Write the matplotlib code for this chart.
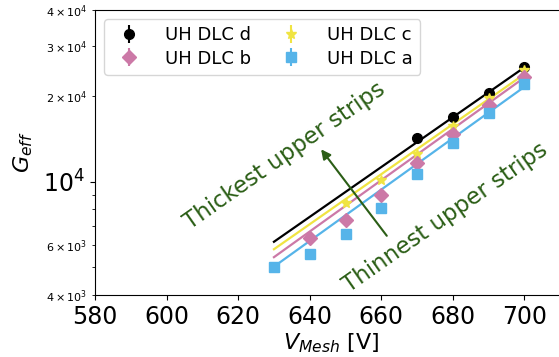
import numpy as np
import matplotlib.pyplot as plt

v_a = [630, 640, 650, 660, 670, 680, 690, 700]
g_a = [5030, 5570, 6560, 8100, 10640, 13620, 17370, 22000]
v_b = [640, 650, 660, 670, 680, 690, 700]
g_b = [6330, 7330, 8970, 11590, 14660, 18570, 23340]
v_c = [650, 660, 670, 680, 690, 700]
g_c = [8390, 10130, 12500, 15670, 19590, 24620]
v_d = [670, 680, 690, 700]
g_d = [14180, 16890, 20510, 25180]

# exponential fit lines, end values at 630 V and 700 V
fit_v = [630, 700]
fit_a = [5030, 21520]
fit_b = [5430, 23200]
fit_c = [5790, 23850]
fit_d = [6150, 25180]

labels = ['UH DLC d', 'UH DLC c', 'UH DLC b', 'UH DLC a']
colors = ['black', '#F0E442', '#CC79A7', '#56B4E9']
markers = ['o', '*', 'D', 's']
msizes = [7, 7, 7, 6.5]
green = '#2b5e16'

fig = plt.figure(figsize=(5.59, 3.57), dpi=100)
ax = fig.add_axes([0.170, 0.1737, 0.845, 0.798])

series = [(v_d, g_d, fit_d), (v_c, g_c, fit_c), (v_b, g_b, fit_b), (v_a, g_a, fit_a)]
handles = []
for (v, g, f), lab, c, m, ms in zip(series, labels, colors, markers, msizes):
    ax.plot(fit_v, f, color=c, lw=1.6)
    h = ax.errorbar(v, g, yerr=[0.015 * x for x in g], fmt=m, color=c, ms=ms,
                    elinewidth=1.5, capsize=0, label=lab, zorder=3)
    handles.append(h)

ax.set_yscale('log')
ax.set_xlim(580, 712)
ax.set_ylim(4e3, 4e4)
ax.set_xticks([580, 600, 620, 640, 660, 680, 700])
ax.tick_params(axis='x', labelsize=17)
ax.tick_params(axis='y', which='major', labelsize=17)
ax.tick_params(axis='y', which='minor', labelsize=8)
ax.set_xlabel(r'$V_{Mesh}$ [V]', fontsize=16, labelpad=2)
ax.set_ylabel(r'$G_{eff}$', fontsize=16, labelpad=6)

# row-wise legend order: d c / b a
order = [0, 2, 1, 3]
ax.legend([handles[i] for i in order], [labels[i] for i in order],
          loc='upper left', ncol=2, fontsize=13, handletextpad=1.0,
          columnspacing=1.2, borderaxespad=0.5, labelspacing=0.3)

ax.text(633, 12300, 'Thickest upper strips', color=green, fontsize=16.5,
        rotation=35, ha='center', va='center', rotation_mode='anchor')
ax.text(678, 7450, 'Thinnest upper strips', color=green, fontsize=16.5,
        rotation=35, ha='center', va='center', rotation_mode='anchor')
ax.annotate('', xy=(642.7, 13220), xytext=(662.0, 6340),
            arrowprops=dict(arrowstyle='-|>', color=green, lw=1.5,
                            mutation_scale=14))

fig.savefig('out.png', dpi=100)
